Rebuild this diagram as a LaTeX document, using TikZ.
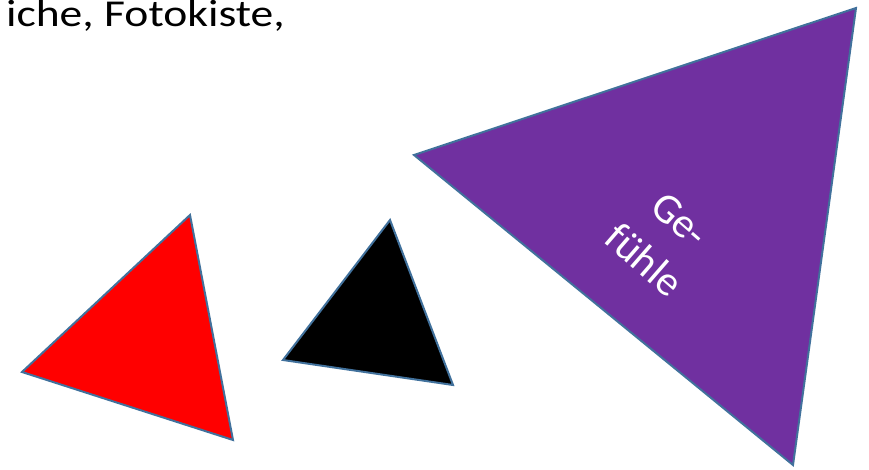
\documentclass[tikz,border=0pt]{standalone}
\usepackage{fontspec}
\setmainfont{Carlito}
\usepackage{xcolor}
\definecolor{rimblue}{HTML}{41719C}
\definecolor{feelpurple}{HTML}{7030A0}
\definecolor{hotred}{HTML}{FF0000}

\begin{document}
\begin{tikzpicture}[
  x=1pt, y=-1pt,
  tri/.style={draw=rimblue, line width=2pt, line join=miter},
  lbl/.style={font=\fontsize{42}{54}\selectfont, text=white, align=center}
]
\useasboundingbox (0,0) rectangle (869,469);
\clip (0,0) rectangle (869,469);

% cut-off caption at the top
\node[anchor=base east, inner sep=0pt, xscale=1.2, font=\fontsize{38}{45}\selectfont] (cap) at (285,26) {iche, Fotokiste,};

% triangles
\draw[tri, fill=hotred]      (190,215) -- (22,372)  -- (233,440) -- cycle;
\draw[tri, fill=black]       (390,220) -- (283,360) -- (453,385) -- cycle;
\draw[tri, fill=feelpurple]  (414,155) -- (856,8)   -- (793,465) -- cycle;

% label inside the purple one
\node[lbl, rotate=-41] (feel) at (662,240) {Ge-\\fühle};
\end{tikzpicture}
\end{document}
